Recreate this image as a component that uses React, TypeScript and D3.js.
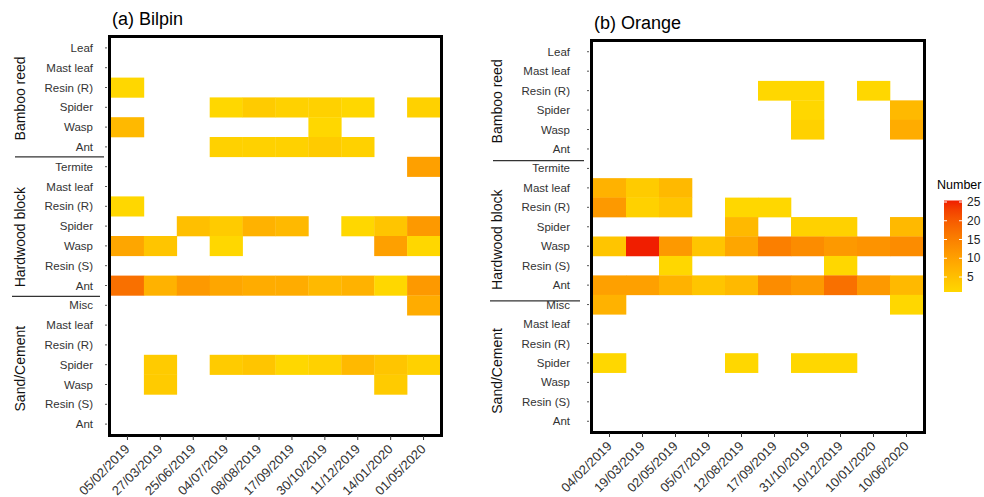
import React, { useEffect, useRef } from 'react';
import * as d3 from 'd3';

// row labels per nest material group
const groups = ['Bamboo reed', 'Hardwood block', 'Sand/Cement'];
const bambooRows = ['Leaf', 'Mast leaf', 'Resin (R)', 'Spider', 'Wasp', 'Ant'];
const hardwoodRows = ['Termite', 'Mast leaf', 'Resin (R)', 'Spider', 'Wasp', 'Resin (S)', 'Ant'];
const sandRows = ['Misc', 'Mast leaf', 'Resin (R)', 'Spider', 'Wasp', 'Resin (S)', 'Ant'];

const bilpinDates = ['05/02/2019', '27/03/2019', '25/06/2019', '04/07/2019', '08/08/2019',
  '17/09/2019', '30/10/2019', '11/12/2019', '14/01/2020', '01/05/2020'];
const orangeDates = ['04/02/2019', '19/03/2019', '02/05/2019', '05/07/2019', '12/08/2019',
  '17/09/2019', '31/10/2019', '10/12/2019', '10/01/2020', '10/06/2020'];

// counts, 0 = no record
const bilpinBamboo = [
  [0, 0, 0, 0, 0, 0, 0, 0, 0, 0],
  [0, 0, 0, 0, 0, 0, 0, 0, 0, 0],
  [1, 0, 0, 0, 0, 0, 0, 0, 0, 0],
  [0, 0, 0, 1, 3, 2, 2, 1, 0, 2],
  [6, 0, 0, 0, 0, 0, 1, 0, 0, 0],
  [0, 0, 0, 2, 2, 2, 3, 2, 0, 0],
];
const bilpinHardwood = [
  [0, 0, 0, 0, 0, 0, 0, 0, 0, 10],
  [0, 0, 0, 0, 0, 0, 0, 0, 0, 0],
  [1, 0, 0, 0, 0, 0, 0, 0, 0, 0],
  [0, 0, 5, 3, 7, 6, 0, 1, 4, 11],
  [9, 4, 0, 1, 0, 0, 0, 0, 10, 1],
  [0, 0, 0, 0, 0, 0, 0, 0, 0, 0],
  [17, 7, 11, 9, 8, 8, 6, 7, 1, 11],
];
const bilpinSand = [
  [0, 0, 0, 0, 0, 0, 0, 0, 0, 8],
  [0, 0, 0, 0, 0, 0, 0, 0, 0, 0],
  [0, 0, 0, 0, 0, 0, 0, 0, 0, 0],
  [0, 3, 0, 3, 4, 1, 2, 6, 4, 2],
  [0, 3, 0, 0, 0, 0, 0, 0, 3, 0],
  [0, 0, 0, 0, 0, 0, 0, 0, 0, 0],
  [0, 0, 0, 0, 0, 0, 0, 0, 0, 0],
];

const orangeBamboo = [
  [0, 0, 0, 0, 0, 0, 0, 0, 0, 0],
  [0, 0, 0, 0, 0, 0, 0, 0, 0, 0],
  [0, 0, 0, 0, 0, 1, 1, 0, 1, 0],
  [0, 0, 0, 0, 0, 0, 1, 0, 0, 6],
  [0, 0, 0, 0, 0, 0, 2, 0, 0, 8],
  [0, 0, 0, 0, 0, 0, 0, 0, 0, 0],
];
const orangeHardwood = [
  [0, 0, 0, 0, 0, 0, 0, 0, 0, 0],
  [7, 3, 6, 0, 0, 0, 0, 0, 0, 0],
  [11, 2, 4, 0, 1, 1, 0, 0, 0, 0],
  [0, 0, 0, 0, 6, 0, 2, 2, 0, 6],
  [4, 25, 11, 4, 9, 15, 13, 11, 12, 13],
  [0, 0, 1, 0, 0, 0, 0, 1, 0, 0],
  [10, 10, 7, 4, 6, 13, 11, 17, 11, 6],
];
const orangeSand = [
  [7, 0, 0, 0, 0, 0, 0, 0, 0, 1],
  [0, 0, 0, 0, 0, 0, 0, 0, 0, 0],
  [0, 0, 0, 0, 0, 0, 0, 0, 0, 0],
  [1, 0, 0, 0, 1, 0, 1, 1, 0, 0],
  [0, 0, 0, 0, 0, 0, 0, 0, 0, 0],
  [0, 0, 0, 0, 0, 0, 0, 0, 0, 0],
  [0, 0, 0, 0, 0, 0, 0, 0, 0, 0],
];

const legendTicks = [5, 10, 15, 20, 25];

const rowSets = [bambooRows, hardwoodRows, sandRows];

interface Panel {
  title: string;
  dates: string[];
  blocks: number[][][];
  x0: number; x1: number; y0: number; y1: number;
  labelX: number;
  groupX: number;
  groupShift: number[];
  sepShift: number[];
  sepX: [number, number];
}

const panels: Panel[] = [
  {
    title: '(a) Bilpin', dates: bilpinDates, blocks: [bilpinBamboo, bilpinHardwood, bilpinSand],
    x0: 111, x1: 440, y0: 38, y1: 434, labelX: 93, groupX: 20,
    groupShift: [1, 11, 4], sepShift: [0, 1], sepX: [15, 104],
  },
  {
    title: '(b) Orange', dates: orangeDates, blocks: [orangeBamboo, orangeHardwood, orangeSand],
    x0: 593, x1: 923, y0: 42, y1: 431, labelX: 570, groupX: 497,
    groupShift: [1, 13, 8], sepShift: [2, 6], sepX: [493, 584],
  },
];

const FONT = 'Liberation Sans, Arial, sans-serif';

const App: React.FC = () => {
  const svgRef = useRef<SVGSVGElement>(null);

  useEffect(() => {
    if (!svgRef.current) return;
    const svg = d3.select(svgRef.current);
    svg.selectAll('*').remove();

    const color = d3.scaleLinear<string>()
      .domain([1, 25])
      .range(['#FFD700', '#F01E00'])
      .interpolate(d3.interpolateLab);

    const rowKeys: string[] = [];
    rowSets.forEach((rows, gi) => rows.forEach(r => rowKeys.push(`${gi}|${r}`)));

    panels.forEach(p => {
      const x = d3.scaleBand().domain(p.dates).range([p.x0, p.x1]);
      const y = d3.scaleBand().domain(rowKeys).range([p.y0, p.y1]);
      const g = svg.append('g');

      // cells
      p.blocks.forEach((block, gi) => {
        block.forEach((vals, ri) => {
          const key = `${gi}|${rowSets[gi][ri]}`;
          vals.forEach((v, ci) => {
            if (!v) return;
            g.append('rect')
              .attr('x', x(p.dates[ci])!)
              .attr('y', y(key)!)
              .attr('width', x.bandwidth() + 0.3)
              .attr('height', y.bandwidth() + 0.3)
              .attr('fill', color(v));
          });
        });
      });

      // frame
      g.append('rect')
        .attr('x', p.x0 - 1.5).attr('y', p.y0 - 1.5)
        .attr('width', p.x1 - p.x0 + 3).attr('height', p.y1 - p.y0 + 3)
        .attr('fill', 'none').attr('stroke', '#000').attr('stroke-width', 3);

      // y axis labels + ticks
      rowKeys.forEach(k => {
        const cy = y(k)! + y.bandwidth() / 2;
        g.append('line')
          .attr('x1', p.x0 - 6).attr('x2', p.x0 - 4)
          .attr('y1', cy).attr('y2', cy)
          .attr('stroke', '#555').attr('stroke-width', 1);
        g.append('text')
          .attr('x', p.labelX).attr('y', cy).attr('dy', '0.35em')
          .attr('text-anchor', 'end')
          .style('font-family', FONT).style('font-size', '11.5px').style('fill', '#333')
          .text(k.split('|')[1]);
      });

      // x axis ticks + rotated labels
      p.dates.forEach(d => {
        const cx = x(d)! + x.bandwidth() / 2;
        g.append('line')
          .attr('x1', cx).attr('x2', cx)
          .attr('y1', p.y1 + 2).attr('y2', p.y1 + 6)
          .attr('stroke', '#333');
        g.append('text')
          .attr('transform', `translate(${cx + 3},${p.y1 + 16}) rotate(-45)`)
          .attr('text-anchor', 'end')
          .style('font-family', FONT).style('font-size', '13px').style('fill', '#333')
          .text(d);
      });

      // group labels and separators
      groups.forEach((name, gi) => {
        const keys = rowSets[gi].map(r => `${gi}|${r}`);
        const top = y(keys[0])!;
        const bottom = y(keys[keys.length - 1])! + y.bandwidth();
        const cy = (top + bottom) / 2 + p.groupShift[gi];
        g.append('text')
          .attr('transform', `translate(${p.groupX + 5},${cy}) rotate(-90)`)
          .attr('text-anchor', 'middle')
          .style('font-family', FONT).style('font-size', '14px').style('fill', '#111')
          .text(name);
        if (gi > 0) {
          const sy = top + p.sepShift[gi - 1];
          g.append('line')
            .attr('x1', p.sepX[0] - (gi === 2 ? 3 : 0)).attr('x2', p.sepX[1] - (gi === 2 ? 4 : 0))
            .attr('y1', sy).attr('y2', sy)
            .attr('stroke', '#333').attr('stroke-width', 1.2);
        }
      });

      // title
      svg.append('text')
        .attr('x', p.x0 + 1).attr('y', p.y0 - 13)
        .style('font-family', FONT).style('font-size', '18px').style('fill', '#000')
        .text(p.title);
    });

    // colour bar legend
    const ly = d3.scaleLinear().domain([1, 25]).range([292, 202]);
    const defs = svg.append('defs');
    const grad = defs.append('linearGradient')
      .attr('id', 'numGrad').attr('x1', 0).attr('x2', 0).attr('y1', 1).attr('y2', 0);
    d3.range(0, 1.0001, 0.1).forEach(t => {
      grad.append('stop').attr('offset', t).attr('stop-color', color(1 + t * 24));
    });
    const lg = svg.append('g');
    lg.append('text')
      .attr('x', 937).attr('y', 189)
      .style('font-family', FONT).style('font-size', '12.5px').style('fill', '#000')
      .text('Number');
    lg.append('rect')
      .attr('x', 944).attr('y', ly(25) - 1.5)
      .attr('width', 18).attr('height', ly(1) - ly(25) + 1.5)
      .attr('fill', 'url(#numGrad)');
    legendTicks.forEach(t => {
      const ty = ly(t);
      lg.append('line').attr('x1', 944).attr('x2', 947).attr('y1', ty).attr('y2', ty)
        .attr('stroke', '#fff').attr('stroke-width', 1);
      lg.append('line').attr('x1', 959).attr('x2', 962).attr('y1', ty).attr('y2', ty)
        .attr('stroke', '#fff').attr('stroke-width', 1);
      lg.append('text')
        .attr('x', 967).attr('y', ty).attr('dy', '0.35em')
        .style('font-family', FONT).style('font-size', '12px').style('fill', '#222')
        .text(t);
    });
  }, []);

  return (
    <svg ref={svgRef} width={984} height={497}
      style={{ position: 'absolute', left: 0, top: 0, background: '#fff' }} />
  );
};

export default App;
